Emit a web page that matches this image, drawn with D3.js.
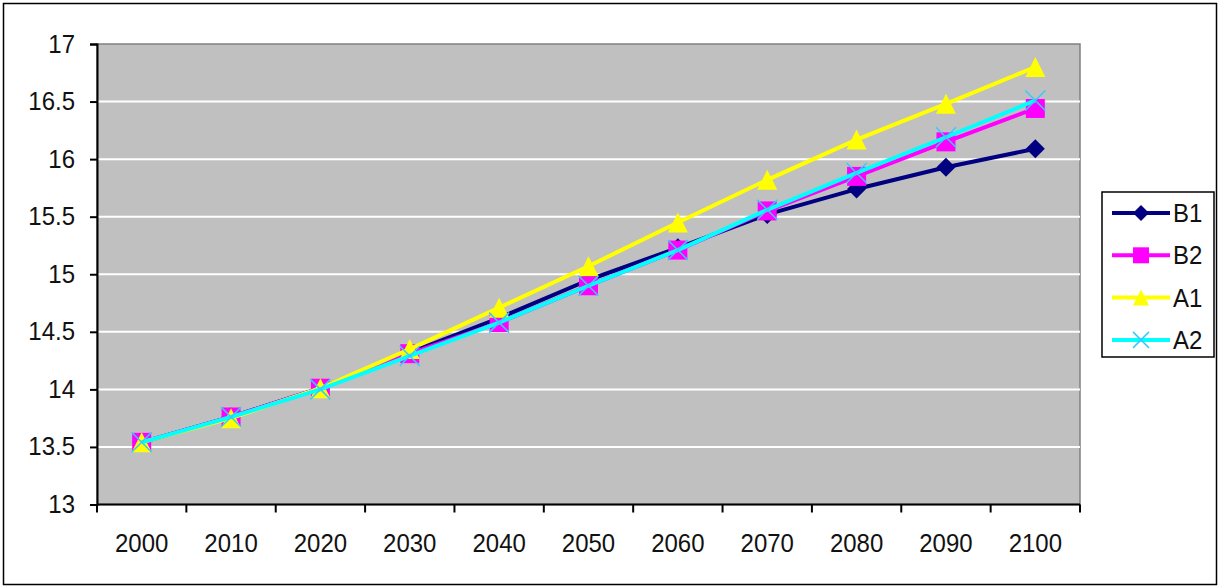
<!DOCTYPE html>
<html>
<head>
<meta charset="utf-8">
<script src="https://cdn.jsdelivr.net/npm/d3@7"></script>
<style>
  html, body { margin: 0; padding: 0; background: #fff; }
  svg { display: block; }
  text { font-family: "Liberation Sans", Arial, sans-serif; fill: #111; }
</style>
</head>
<body>
<svg id="chart" width="1220" height="588"></svg>
<script>
// Categories (years) and series values
const years = ["2000", "2010", "2020", "2030", "2040", "2050", "2060", "2070", "2080", "2090", "2100"];
const b1 = [13.54, 13.76, 14.01, 14.32, 14.62, 14.95, 15.23, 15.52, 15.74, 15.93, 16.09];
const b2 = [13.54, 13.76, 14.01, 14.31, 14.58, 14.90, 15.21, 15.55, 15.85, 16.15, 16.44];
const a1 = [13.54, 13.75, 14.01, 14.35, 14.71, 15.07, 15.45, 15.82, 16.17, 16.48, 16.80];
const a2 = [13.54, 13.76, 14.00, 14.29, 14.58, 14.90, 15.21, 15.56, 15.88, 16.19, 16.51];
const yTicks = [13, 13.5, 14, 14.5, 15, 15.5, 16, 16.5, 17];

const series = [
  { name: "B1", values: b1, color: "#000080", marker: "diamond" },
  { name: "B2", values: b2, color: "#FF00FF", marker: "square" },
  { name: "A1", values: a1, color: "#FFFF00", marker: "triangle" },
  { name: "A2", values: a2, color: "#00FFFF", marker: "cross" }
];

const svg = d3.select("#chart");
const plot = { left: 97, top: 44, right: 1080, bottom: 504.5 };
const FONT = 24, STRETCH = 1.1;

// Text with a slightly taller glyph shape, anchored at (x, y)
function label(g, xPos, yPos, str, anchor) {
  return g.append("text")
    .attr("transform", `translate(${xPos},${yPos}) scale(1,${STRETCH})`)
    .attr("text-anchor", anchor)
    .attr("font-size", FONT)
    .text(str);
}

// Outer chart border
svg.append("rect")
  .attr("x", 3.5).attr("y", 3.5).attr("width", 1213).attr("height", 581)
  .attr("fill", "#fff").attr("stroke", "#000").attr("stroke-width", 1.5);

const x = d3.scaleBand().domain(years).range([plot.left, plot.right]).padding(0);
const y = d3.scaleLinear().domain([13, 17]).range([plot.bottom, plot.top]);

// Plot area
svg.append("rect")
  .attr("x", plot.left).attr("y", plot.top)
  .attr("width", plot.right - plot.left).attr("height", plot.bottom - plot.top)
  .attr("fill", "#C0C0C0").attr("stroke", "#808080").attr("stroke-width", 1.5);

// Gridlines
svg.append("g").selectAll("line")
  .data(yTicks.filter(t => t > 13 && t < 17))
  .join("line")
  .attr("x1", plot.left).attr("x2", plot.right)
  .attr("y1", d => y(d)).attr("y2", d => y(d))
  .attr("stroke", "#fff").attr("stroke-width", 2);

// Y axis (line and ticks from d3.axisLeft, labels set below)
const yAxis = d3.axisLeft(y).tickValues(yTicks).tickSize(7).tickFormat("");
const gy = svg.append("g").attr("transform", `translate(${plot.left},0)`).call(yAxis);
gy.select(".domain").attr("stroke", "#000").attr("stroke-width", 2);
gy.selectAll(".tick line").attr("stroke", "#000").attr("stroke-width", 2);
const yLab = svg.append("g");
yTicks.forEach(t => label(yLab, 75, y(t) + 8.5, String(t), "end"));

// X axis: ticks between categories
const xAxisG = svg.append("g");
xAxisG.append("line")
  .attr("x1", plot.left).attr("x2", plot.right)
  .attr("y1", plot.bottom).attr("y2", plot.bottom)
  .attr("stroke", "#000").attr("stroke-width", 2);
const boundaries = years.map(d => x(d)).concat([x(years[years.length - 1]) + x.bandwidth()]);
xAxisG.selectAll("line.tk").data(boundaries).join("line")
  .attr("class", "tk")
  .attr("x1", d => d).attr("x2", d => d)
  .attr("y1", plot.bottom).attr("y2", plot.bottom + 8)
  .attr("stroke", "#000").attr("stroke-width", 2);
years.forEach(d => label(xAxisG, x(d) + x.bandwidth() / 2, 552, d, "middle"));

// Marker drawing
function drawMarker(g, type, color, size) {
  const s = size / 2;
  if (type === "diamond") {
    g.append("path").attr("d", `M0,${-s}L${s},0L0,${s}L${-s},0Z`).attr("fill", color);
  } else if (type === "square") {
    g.append("rect").attr("x", -s).attr("y", -s).attr("width", size).attr("height", size).attr("fill", color);
  } else if (type === "triangle") {
    g.append("path").attr("d", `M0,${-s}L${s},${s}L${-s},${s}Z`).attr("fill", color);
  } else if (type === "cross") {
    g.append("path").attr("d", `M${-s},${-s}L${s},${s}M${s},${-s}L${-s},${s}`)
      .attr("stroke", "#33CCFF").attr("stroke-width", 1.5).attr("fill", "none");
  }
}

const line = d3.line().x((d, i) => x(years[i]) + x.bandwidth() / 2).y(d => y(d));
const markerSize = { diamond: 19, square: 19, triangle: 20, cross: 20 };

series.forEach(s => {
  const g = svg.append("g");
  g.append("path").datum(s.values)
    .attr("d", line).attr("fill", "none")
    .attr("stroke", s.color).attr("stroke-width", 4).attr("stroke-linejoin", "round");
  s.values.forEach((v, i) => {
    const mg = g.append("g").attr("transform", `translate(${x(years[i]) + x.bandwidth() / 2},${y(v)})`);
    drawMarker(mg, s.marker, s.color, markerSize[s.marker]);
  });
});

// Legend
const legend = svg.append("g");
legend.append("rect")
  .attr("x", 1102).attr("y", 192).attr("width", 112).attr("height", 165)
  .attr("fill", "#fff").attr("stroke", "#000").attr("stroke-width", 1.5);
series.forEach((s, i) => {
  const cy = 213 + i * 42.3;
  const g = legend.append("g");
  g.append("line").attr("x1", 1112).attr("x2", 1170).attr("y1", cy).attr("y2", cy)
    .attr("stroke", s.color).attr("stroke-width", 4);
  const mg = g.append("g").attr("transform", `translate(1141,${cy})`);
  drawMarker(mg, s.marker, s.color, 16);
  label(g, 1173, cy + 9, s.name, "start");
});
</script>
</body>
</html>
